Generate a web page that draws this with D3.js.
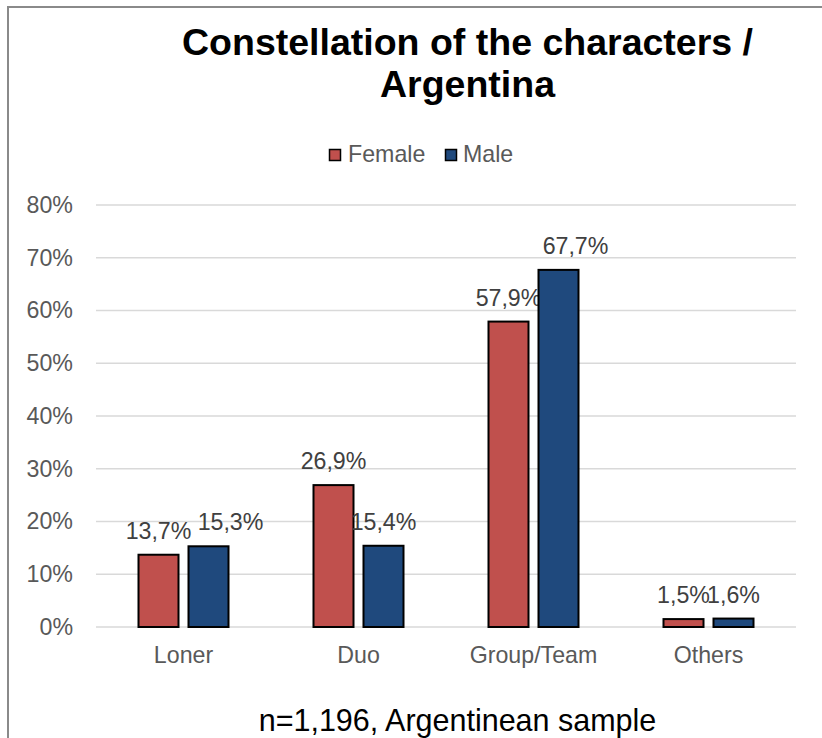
<!DOCTYPE html>
<html>
<head>
<meta charset="utf-8">
<script src="https://cdn.jsdelivr.net/npm/d3@7"></script>
<style>
  html, body { margin: 0; padding: 0; background: #fff; }
  svg { display: block; font-family: "Liberation Sans", Arial, sans-serif; }
</style>
</head>
<body>
<svg id="chart" width="822" height="738"></svg>
<script>
const categories = ["Loner", "Duo", "Group/Team", "Others"];
const seriesNames = ["Female", "Male"];
const female = [13.7, 26.9, 57.9, 1.5];
const male = [15.3, 15.4, 67.7, 1.6];
const yTicks = [0, 10, 20, 30, 40, 50, 60, 70, 80];
const titleLines = ["Constellation of the characters /", "Argentina"];
const footnote = "n=1,196, Argentinean sample";

// ---- styling / layout (not data) ----
const seriesColors = ["#C0504D", "#1F497D"];
const FONT = 23.2;
// manual label nudges as placed in the original chart
const labelShift = [[0, 0, 0, 0], [22, 0, 17, 0]];

const svg = d3.select("#chart");

// outer chart border
svg.append("rect")
  .attr("x", 8).attr("y", 7).attr("width", 840).attr("height", 760)
  .attr("fill", "#fff").attr("stroke", "#8a8a8a").attr("stroke-width", 2);

const plot = { left: 96, right: 796, top: 205, bottom: 627 };

const x = d3.scaleBand().domain(categories).range([plot.left, plot.right]);
const y = d3.scaleLinear().domain([0, 80]).range([plot.bottom, plot.top]);

// gridlines
svg.append("g").selectAll("line").data(yTicks).join("line")
  .attr("x1", plot.left).attr("x2", plot.right)
  .attr("y1", d => y(d)).attr("y2", d => y(d))
  .attr("stroke", "#d9d9d9").attr("stroke-width", 1.5);

// y axis labels
const yAxis = d3.axisLeft(y).tickValues(yTicks).tickFormat(d => d + "%").tickSize(0).tickPadding(0);
const yg = svg.append("g").attr("transform", `translate(${plot.left - 23},0)`).call(yAxis);
yg.select(".domain").remove();
yg.selectAll("text").attr("fill", "#595959").style("font-size", FONT + "px")
  .style("font-family", "'Liberation Sans', Arial, sans-serif");

// x axis labels
const xAxis = d3.axisBottom(x).tickSize(0).tickPadding(0);
const xg = svg.append("g").attr("transform", `translate(0,${plot.bottom + 20})`).call(xAxis);
xg.select(".domain").remove();
xg.selectAll("text").attr("fill", "#595959").style("font-size", FONT + "px")
  .style("font-family", "'Liberation Sans', Arial, sans-serif");

// bars
const data = [female, male];
const barW = 40;
seriesNames.forEach((s, si) => {
  const g = svg.append("g");
  const vals = data[si];
  const cx = c => x(c) + x.bandwidth() / 2 + (si === 0 ? -25 : 25);
  g.selectAll("rect").data(categories).join("rect")
    .attr("x", c => cx(c) - barW / 2)
    .attr("y", (c, i) => y(vals[i]))
    .attr("width", barW)
    .attr("height", (c, i) => y(0) - y(vals[i]))
    .attr("fill", seriesColors[si])
    .attr("stroke", "#000").attr("stroke-width", 2);
  g.selectAll("text").data(categories).join("text")
    .attr("x", (c, i) => cx(c) + labelShift[si][i])
    .attr("y", (c, i) => y(vals[i]) - 16)
    .attr("text-anchor", "middle")
    .attr("fill", "#404040")
    .style("font-size", FONT + "px")
    .text((c, i) => vals[i].toFixed(1).replace(".", ",") + "%");
});

// title
svg.append("text")
  .attr("text-anchor", "middle").attr("font-weight", "bold")
  .style("font-size", "37.5px").attr("fill", "#000")
  .selectAll("tspan").data(titleLines).join("tspan")
  .attr("x", 467.5).attr("y", (d, i) => 55 + i * 42)
  .text(d => d);

// legend
const legendItems = [
  { name: seriesNames[0], color: seriesColors[0], sx: 329, tx: 348 },
  { name: seriesNames[1], color: seriesColors[1], sx: 445, tx: 463 }
];
const lg = svg.append("g");
legendItems.forEach(it => {
  lg.append("rect").attr("x", it.sx + 0.5).attr("y", 149.5).attr("width", 11).attr("height", 11)
    .attr("fill", it.color).attr("stroke", "#000").attr("stroke-width", 1.5);
  lg.append("text").attr("x", it.tx).attr("y", 162).attr("fill", "#595959")
    .style("font-size", FONT + "px").text(it.name);
});

// footnote
svg.append("text").attr("x", 457.5).attr("y", 731).attr("text-anchor", "middle")
  .style("font-size", "30.5px").attr("fill", "#000").text(footnote);
</script>
</body>
</html>
